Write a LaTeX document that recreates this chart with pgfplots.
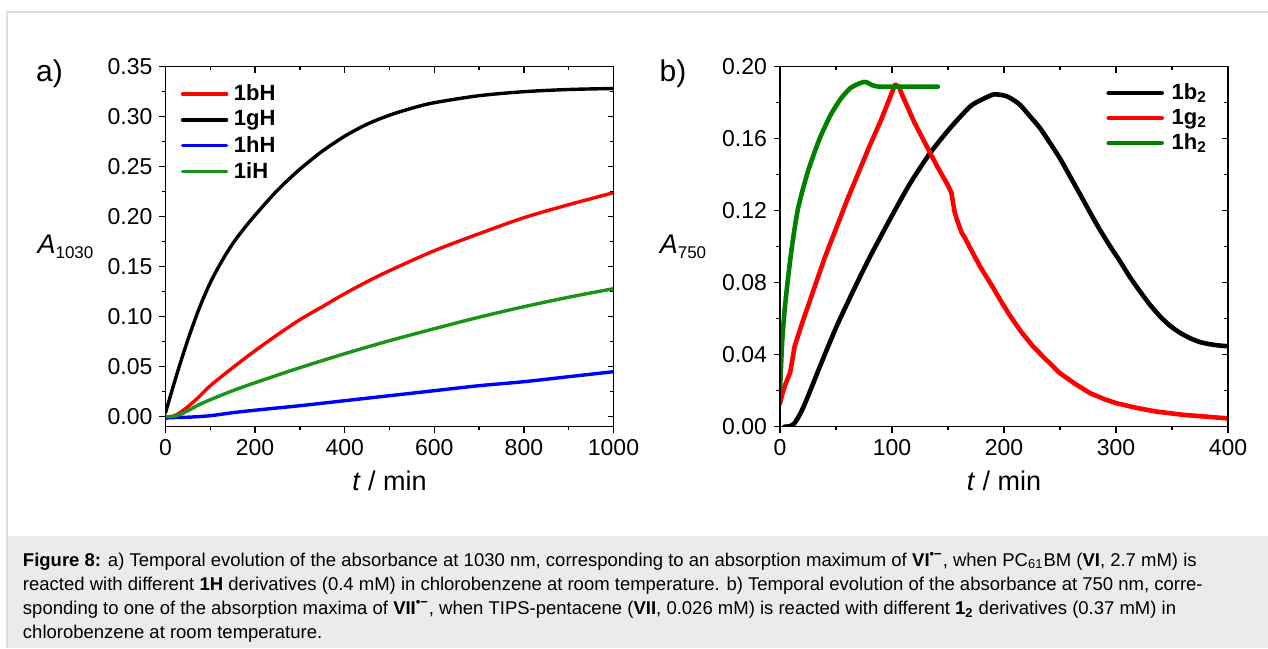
\documentclass[border=0pt]{standalone}
\usepackage{fontspec}
\setmainfont{Liberation Sans}
\usepackage{pgfplots}
\pgfplotsset{compat=1.18}

\definecolor{capgray}{HTML}{EBEBEB}
\definecolor{framegray}{HTML}{DDDDDD}
\definecolor{cgreen}{rgb}{0,0.5,0}
\definecolor{agreen}{rgb}{0.1,0.58,0.1}

% shared look of both panels (1 px of the reference = 0.5pt)
\pgfplotsset{
  panel/.style={
    scale only axis, width=224pt, height=180pt,
    axis line style={line width=0.8pt},
    tick style={black, line width=0.7pt},
    major tick length=3pt, minor tick length=1.8pt,
    minor tick num=1,
    tick label style={font=\fontsize{11.5}{12}\selectfont},
    /pgf/number format/assume math mode=true,
    x tick label style={/pgf/number format/1000 sep={}},
    y tick label style={/pgf/number format/.cd, fixed, fixed zerofill, precision=2},
    every axis x label/.style={at={(axis description cs:0.5,0)}, anchor=center,
      yshift=-27pt, font=\fontsize{13.5}{15}\selectfont},
  },
  outer/.style={tick align=outside, xtick pos=left, ytick pos=left},
  inner/.style={tick align=inside, xtick pos=right, ytick pos=right, xticklabels={}, yticklabels={}},
  curve/.style={line join=round, line cap=round},
}

\begin{document}
\begin{tikzpicture}
\useasboundingbox (0,0) rectangle (634pt,324pt);
\fill[capgray] (3.75pt,0) rectangle (634pt,56pt);
\draw[framegray, line width=0.6pt] (3.5pt,0) -- (3.5pt,318pt) -- (634pt,318pt);

% ---------- panel a ----------
\begin{axis}[panel, outer,
    at={(82.75pt,110.65pt)},
    xmin=0, xmax=1000, ymin=-0.01, ymax=0.35,
    xtick={0,200,400,600,800,1000},
    ytick={0,0.05,0.10,0.15,0.20,0.25,0.30,0.35},
    xlabel={\textit{t} / min},
    ylabel={\textit{A}\raisebox{-2.6pt}{\fontsize{8.5}{9}\selectfont 1030}},
    every axis y label/.style={at={(axis description cs:0,0.5)}, anchor=center,
      xshift=-50pt, font=\fontsize{13.5}{15}\selectfont},
    legend style={at={(axis description cs:0,1)}, anchor=north west,
      xshift=4.5pt, yshift=-5pt, draw=none, fill=none,
      font=\fontsize{11}{11}\selectfont\bfseries, row sep=0pt,
      nodes={inner sep=1.8pt},
      /tikz/every odd column/.append style={column sep=1pt}},
    legend cell align=left,
    legend image code/.code={\draw[#1] (0pt,0pt) -- (22pt,0pt);},
]
\addplot[curve, smooth, tension=0.5, red, line width=1.7pt] coordinates {
(0,-0.002) (25,0.002) (50,0.010) (75,0.020) (100,0.031) (150,0.049)
(200,0.066) (250,0.082) (300,0.097) (350,0.110) (400,0.123) (450,0.135)
(500,0.146) (600,0.166) (700,0.183) (800,0.199) (900,0.212) (1000,0.224)
}; \addlegendentry{1bH}
\addplot[curve, smooth, tension=0.5, black, line width=1.7pt] coordinates {
(0,0.004) (25,0.042) (50,0.077) (75,0.108) (100,0.134) (125,0.155)
(150,0.173) (175,0.188) (200,0.2015) (250,0.2265) (300,0.2475) (350,0.2655)
(400,0.2805) (450,0.2925) (500,0.3015) (550,0.3085) (600,0.314) (700,0.321)
(800,0.325) (900,0.3272) (1000,0.3282)
}; \addlegendentry{1gH}
\addplot[curve, smooth, tension=0.5, blue, line width=1.7pt] coordinates {
(0,-0.001) (50,-0.0005) (100,0.001) (150,0.004) (200,0.0065) (300,0.011)
(400,0.016) (500,0.021) (600,0.026) (700,0.031) (800,0.035) (900,0.040)
(1000,0.045)
}; \addlegendentry{1hH}
\addplot[curve, smooth, tension=0.5, agreen, line width=1.7pt] coordinates {
(0,0) (25,0.001) (50,0.006) (75,0.012) (100,0.017) (150,0.026)
(200,0.034) (300,0.049) (400,0.063) (500,0.076) (600,0.088) (700,0.0995)
(800,0.110) (900,0.1195) (1000,0.128)
}; \addlegendentry{1iH}
\end{axis}
\begin{axis}[panel, inner,
    at={(82.75pt,110.65pt)},
    xmin=0, xmax=1000, ymin=-0.01, ymax=0.35,
    xtick={0,200,400,600,800,1000},
    ytick={0,0.05,0.10,0.15,0.20,0.25,0.30,0.35},
]
\end{axis}

% ---------- panel b ----------
\begin{axis}[panel, outer,
    at={(390pt,110.65pt)},
    xmin=0, xmax=400, ymin=0, ymax=0.20,
    xtick={0,100,200,300,400},
    ytick={0,0.04,0.08,0.12,0.16,0.20},
    xlabel={\textit{t} / min},
    ylabel={\textit{A}\raisebox{-2.6pt}{\fontsize{8.5}{9}\selectfont 750}},
    every axis y label/.style={at={(axis description cs:0,0.5)}, anchor=center,
      xshift=-48.5pt, font=\fontsize{13.5}{15}\selectfont},
    legend style={at={(axis description cs:0,1)}, anchor=north west,
      xshift=160pt, yshift=-4.5pt, draw=none, fill=none,
      font=\fontsize{11}{11}\selectfont\bfseries, row sep=-0.4pt,
      nodes={inner sep=1.8pt},
      /tikz/every odd column/.append style={column sep=2pt}},
    legend cell align=left,
    legend image code/.code={\draw[#1] (0pt,0pt) -- (26.5pt,0pt);},
]
\addplot[curve, smooth, tension=0.4, black, line width=2.3pt] coordinates {
(4,0) (9,0.0003) (13,0.002) (17,0.006) (21,0.011) (27,0.020) (36,0.034)
(50,0.055) (65,0.075) (80,0.094) (98,0.115) (116,0.135) (134,0.152)
(152,0.166) (170,0.178) (181,0.182) (191,0.1846) (200,0.184) (205,0.1828)
(214,0.179) (223,0.1726) (232,0.166) (241,0.1577) (250,0.149) (259,0.139)
(268,0.129) (277,0.1188) (286,0.109) (295,0.100) (304,0.0915) (312,0.0835)
(321,0.0755) (330,0.068) (339,0.0615) (348,0.0562) (357,0.0522) (366,0.0492)
(375,0.047) (384,0.0458) (392,0.0451) (400,0.0447)
}; \addlegendentry{1b\textsubscript{2}}
\addplot[curve, red, line width=2.3pt] coordinates {
(0,0.013) (2,0.018) (4.5,0.023) (7,0.027) (9,0.030) (11,0.037) (13,0.0445)
(20,0.058) (30,0.076) (40,0.094) (50,0.110) (60,0.126) (70,0.141) (80,0.156)
(90,0.170) (97,0.181) (102.7,0.190) (106,0.189) (110,0.183) (120,0.169)
(130,0.157) (140,0.145) (150,0.134) (153,0.130) (156,0.119) (158,0.115)
(162,0.108) (165,0.105) (170,0.099) (178.6,0.089) (190.5,0.077) (198,0.069)
(205,0.062) (215,0.053) (226,0.0445) (238,0.037) (250,0.0297) (263,0.024)
(277,0.0186) (290,0.0152) (300.6,0.013) (318,0.0105) (336,0.0084)
(360,0.0066) (380,0.0056) (400,0.0046)
}; \addlegendentry{1g\textsubscript{2}}
\addplot[curve, smooth, tension=0.3, cgreen, line width=2.3pt] coordinates {
(0,0.020) (1,0.035) (2,0.048) (4,0.064) (6,0.076) (8,0.087) (10,0.097)
(13,0.110) (16,0.121) (20,0.131) (25,0.142) (30,0.151) (36,0.161) (45,0.173)
(54,0.182) (62.5,0.188) (70,0.1905) (75,0.1915) (78,0.1912) (82,0.1898)
(88,0.1889) (100,0.1889) (120,0.1889) (141,0.1889)
}; \addlegendentry{1h\textsubscript{2}}
\end{axis}
\begin{axis}[panel, inner,
    at={(390pt,110.65pt)},
    xmin=0, xmax=400, ymin=0, ymax=0.20,
    xtick={0,100,200,300,400},
    ytick={0,0.04,0.08,0.12,0.16,0.20},
]
\end{axis}

% panel letters
\node[font=\fontsize{15}{16}\selectfont] at (24.75pt,287pt) {a)};
\node[font=\fontsize{15}{16}\selectfont] at (336.5pt,287pt) {b)};

% caption
\begin{scope}[every node/.style={anchor=base west, inner sep=0pt, font=\fontsize{9.25}{10}\selectfont}]
\node at (11.3pt,41pt) {\textbf{Figure 8:} a) Temporal evolution of the absorbance at 1030 nm, corresponding to an absorption maximum of \textbf{VI}\textsuperscript{\textbf{•−}}, when PC\textsubscript{61}BM (\textbf{VI}, 2.7 mM) is};
\node at (11.3pt,28.9pt) {reacted with different \textbf{1H} derivatives (0.4 mM) in chlorobenzene at room temperature. b) Temporal evolution of the absorbance at 750 nm, corre-};
\node at (11.3pt,16.8pt) {sponding to one of the absorption maxima of \textbf{VII}\textsuperscript{\textbf{•−}}, when TIPS-pentacene (\textbf{VII}, 0.026 mM) is reacted with different \textbf{1\textsubscript{2}} derivatives (0.37 mM) in};
\node at (11.3pt,4.9pt) {chlorobenzene at room temperature.};
\end{scope}
\end{tikzpicture}
\end{document}
